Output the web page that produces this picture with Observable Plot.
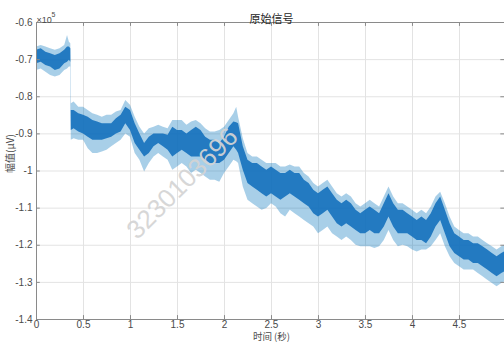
<!DOCTYPE html>
<html>
<head>
<meta charset="utf-8">
<script src="https://cdn.jsdelivr.net/npm/d3@7"></script>
<script src="https://cdn.jsdelivr.net/npm/@observablehq/plot@0.6"></script>
<style>
  html, body { margin: 0; padding: 0; background: #fff; }
  #chart { position: relative; width: 504px; height: 342px; overflow: hidden; }
  #wm { position: absolute; left: 182px; top: 183px; transform: translate(-50%, -50%) rotate(-45deg);
        font: 26px 'Liberation Sans', Arial, sans-serif; color: #d4d4d4; opacity: 0.92; white-space: nowrap;
        pointer-events: none; line-height: 1; }
</style>
</head>
<body>
<div id="chart"></div>
<script>
// Time (s) and amplitude envelopes, in units of ×10^5 μV
const time = [0,0.05,0.1,0.15,0.2,0.25,0.3,0.33,0.35,0.365,0.37,0.4,0.45,0.5,0.55,0.6,0.65,0.7,0.75,0.8,0.85,0.9,0.95,1.0,
  1.05,1.1,1.15,1.2,1.25,1.3,1.35,1.4,1.45,1.5,1.55,1.6,1.65,1.7,1.75,1.8,1.85,1.9,1.95,2.0,2.05,2.1,2.13,2.15,2.2,2.25,
  2.3,2.35,2.4,2.45,2.5,2.55,2.6,2.65,2.7,2.75,2.8,2.85,2.9,2.95,3.0,3.05,3.1,3.15,3.2,3.25,3.3,3.35,3.4,3.45,3.5,3.55,
  3.6,3.65,3.7,3.75,3.8,3.85,3.9,3.95,4.0,4.05,4.1,4.15,4.2,4.25,4.3,4.35,4.4,4.45,4.5,4.55,4.6,4.65,4.7,4.75,4.8,4.85,
  4.9,4.95,4.98];
const upperEnv = [-0.666,-0.662,-0.666,-0.671,-0.675,-0.671,-0.662,-0.635,-0.653,-0.657,-0.819,-0.814,-0.828,-0.828,-0.837,-0.846,-0.850,-0.855,-0.850,-0.850,-0.841,-0.837,-0.810,-0.823,
  -0.855,-0.882,-0.900,-0.886,-0.882,-0.877,-0.882,-0.886,-0.864,-0.864,-0.864,-0.877,-0.868,-0.864,-0.873,-0.886,-0.895,-0.895,-0.891,-0.882,-0.864,-0.846,-0.828,-0.855,-0.913,-0.953,
  -0.962,-0.962,-0.971,-0.980,-0.980,-0.980,-0.989,-0.989,-0.984,-0.989,-0.989,-1.007,-1.016,-1.034,-1.043,-1.034,-1.025,-1.043,-1.061,-1.070,-1.061,-1.070,-1.088,-1.097,-1.088,-1.079,
  -1.088,-1.097,-1.070,-1.043,-1.070,-1.088,-1.088,-1.097,-1.106,-1.115,-1.106,-1.115,-1.097,-1.070,-1.057,-1.088,-1.124,-1.151,-1.160,-1.169,-1.169,-1.178,-1.178,-1.187,-1.196,-1.204,
  -1.213,-1.204,-1.200];
const coreTop = [-0.675,-0.671,-0.680,-0.684,-0.689,-0.684,-0.675,-0.666,-0.666,-0.671,-0.837,-0.837,-0.846,-0.850,-0.855,-0.864,-0.868,-0.873,-0.873,-0.873,-0.859,-0.850,-0.828,-0.837,
  -0.873,-0.900,-0.926,-0.909,-0.900,-0.900,-0.900,-0.904,-0.882,-0.891,-0.891,-0.900,-0.891,-0.882,-0.891,-0.909,-0.917,-0.917,-0.926,-0.909,-0.882,-0.868,-0.870,-0.873,-0.935,-0.971,
  -0.980,-0.980,-0.989,-0.998,-0.989,-0.998,-1.007,-1.007,-0.998,-1.007,-1.007,-1.025,-1.034,-1.052,-1.061,-1.052,-1.043,-1.061,-1.079,-1.088,-1.079,-1.088,-1.106,-1.115,-1.106,-1.097,
  -1.106,-1.115,-1.088,-1.061,-1.088,-1.106,-1.106,-1.115,-1.124,-1.133,-1.124,-1.133,-1.115,-1.088,-1.070,-1.106,-1.142,-1.169,-1.178,-1.187,-1.187,-1.196,-1.196,-1.204,-1.213,-1.222,
  -1.231,-1.222,-1.218];
const coreBottom = [-0.711,-0.707,-0.716,-0.720,-0.729,-0.725,-0.711,-0.707,-0.702,-0.707,-0.891,-0.886,-0.895,-0.900,-0.909,-0.917,-0.917,-0.917,-0.913,-0.909,-0.900,-0.895,-0.873,-0.891,
  -0.926,-0.944,-0.962,-0.953,-0.935,-0.926,-0.935,-0.944,-0.962,-0.953,-0.944,-0.953,-0.962,-0.962,-0.962,-0.971,-0.980,-0.980,-0.980,-0.971,-0.953,-0.935,-0.944,-0.953,-0.998,-1.034,
  -1.043,-1.052,-1.061,-1.070,-1.061,-1.070,-1.079,-1.070,-1.061,-1.070,-1.079,-1.088,-1.097,-1.115,-1.124,-1.115,-1.106,-1.124,-1.142,-1.151,-1.142,-1.151,-1.160,-1.169,-1.169,-1.160,
  -1.169,-1.169,-1.151,-1.124,-1.151,-1.169,-1.169,-1.169,-1.178,-1.187,-1.187,-1.196,-1.178,-1.151,-1.133,-1.169,-1.204,-1.222,-1.231,-1.240,-1.240,-1.249,-1.249,-1.258,-1.267,-1.276,
  -1.285,-1.276,-1.272];
const lowerEnv = [-0.729,-0.725,-0.734,-0.743,-0.747,-0.743,-0.729,-0.725,-0.720,-0.720,-0.917,-0.913,-0.917,-0.917,-0.940,-0.953,-0.953,-0.949,-0.944,-0.935,-0.926,-0.917,-0.900,-0.909,
  -0.953,-0.971,-1.003,-0.980,-0.962,-0.953,-0.962,-0.971,-0.998,-0.989,-0.980,-0.989,-1.007,-0.998,-1.007,-1.016,-1.025,-1.025,-1.030,-1.007,-0.989,-0.971,-0.975,-0.980,-1.043,-1.079,
  -1.088,-1.097,-1.106,-1.101,-1.088,-1.097,-1.115,-1.124,-1.106,-1.115,-1.124,-1.133,-1.142,-1.151,-1.169,-1.160,-1.151,-1.169,-1.178,-1.187,-1.178,-1.187,-1.200,-1.204,-1.204,-1.204,
  -1.209,-1.204,-1.187,-1.160,-1.187,-1.204,-1.200,-1.204,-1.213,-1.218,-1.213,-1.213,-1.204,-1.187,-1.169,-1.204,-1.231,-1.249,-1.258,-1.267,-1.267,-1.267,-1.276,-1.285,-1.294,-1.303,
  -1.312,-1.303,-1.299];

const xTicks = [0,0.5,1,1.5,2,2.5,3,3.5,4,4.5];
const yTicks = [-0.6,-0.7,-0.8,-0.9,-1,-1.1,-1.2,-1.3,-1.4];
const titleText = "原始信号";
const xLabel = "时间 (秒)";
const yLabel = "幅值(μV)";
const watermark = "3230103696";

const rows = time.map((t, i) => ({t, up: upperEnv[i], ct: coreTop[i], cb: coreBottom[i], lo: lowerEnv[i]}));

const latin = "'Liberation Sans', Arial, Helvetica, sans-serif";
const cjk = "'Noto Sans CJK SC', 'Liberation Sans', sans-serif";
const blue = "#0072BD";
const axisColor = "#8a8a8a";
const tickLen = 0.0105; // inward tick length in y units

const chart = Plot.plot({
  width: 504,
  height: 342,
  marginLeft: 36,
  marginRight: 0,
  marginTop: 22,
  marginBottom: 23,
  x: {domain: [0, 4.979], label: null},
  y: {domain: [-1.4, -0.6], label: null},
  style: {fontFamily: latin, fontSize: "10px", color: "#4a4a4a", background: "#fff", overflow: "visible"},
  marks: [
    Plot.gridX(xTicks, {stroke: "#e3e3e3", strokeOpacity: 1}),
    Plot.gridY(yTicks, {stroke: "#e3e3e3", strokeOpacity: 1}),
    Plot.areaY(rows, {x: "t", y1: "lo", y2: "up", fill: blue, fillOpacity: 0.34}),
    Plot.areaY(rows, {x: "t", y1: "cb", y2: "ct", fill: "#1470bd", fillOpacity: 0.9}),
    Plot.ruleY([-0.6, -1.4], {stroke: axisColor}),
    Plot.ruleX([0], {stroke: axisColor}),
    Plot.ruleX(xTicks.slice(1), {x: d => d, y1: -1.4, y2: -1.4 + tickLen, stroke: axisColor}),
    Plot.ruleX(xTicks.slice(1), {x: d => d, y1: -0.6, y2: -0.6 - tickLen, stroke: axisColor}),
    Plot.ruleY(yTicks.slice(1, -1), {y: d => d, x1: 0, x2: 0.04, stroke: axisColor}),
    Plot.ruleY(yTicks.slice(1, -1), {y: d => d, x1: 4.94, x2: 4.979, stroke: axisColor}),
    Plot.axisX(xTicks, {tickSize: 0, tickPadding: 1, tickFormat: d => String(d), fill: "#4a4a4a", fontSize: 10, label: null}),
    Plot.axisY(yTicks, {tickSize: 0, tickPadding: 4, tickFormat: d => String(d), fill: "#4a4a4a", fontSize: 10, label: null}),
    Plot.text([titleText], {frameAnchor: "top", dx: 1, dy: -7, text: d => d, fontSize: 11, fill: "#262626", fontFamily: cjk}),
    Plot.text(["×10"], {frameAnchor: "top-left", dx: 0, dy: -6, text: d => d, textAnchor: "start", fontSize: 9, fill: "#4a4a4a"}),
    Plot.text(["5"], {frameAnchor: "top-left", dx: 15, dy: -10, text: d => d, textAnchor: "start", fontSize: 7, fill: "#4a4a4a"}),
    Plot.text([yLabel], {frameAnchor: "left", dx: -26, dy: 2, text: d => d, rotate: -90, fontSize: 10, fill: "#4a4a4a", fontFamily: cjk}),
    Plot.text([xLabel], {frameAnchor: "bottom", dx: 1, dy: 20, lineAnchor: "bottom", text: d => d, fontSize: 9.5, fill: "#4a4a4a", fontFamily: cjk})
  ]
});
const host = document.getElementById("chart");
host.appendChild(chart);
const wm = document.createElement("div");
wm.id = "wm";
wm.textContent = watermark;
host.appendChild(wm);
</script>
</body>
</html>
